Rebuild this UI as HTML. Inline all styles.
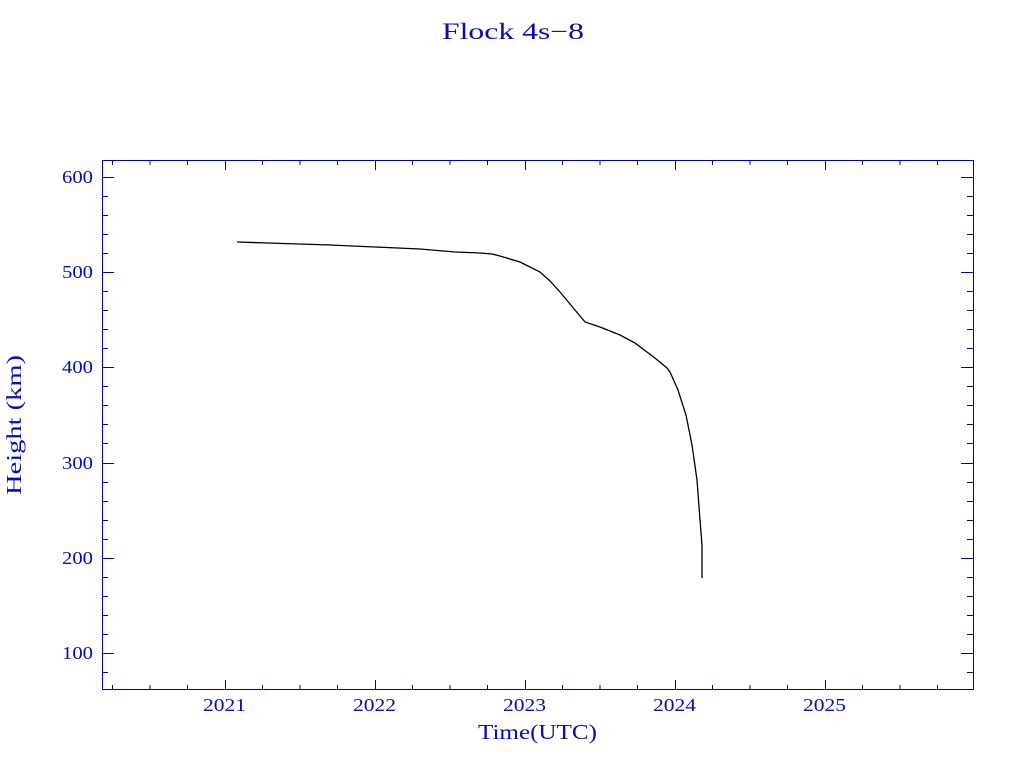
<!DOCTYPE html><html><head><style>body{margin:0;background:#fff}svg{display:block}text{font-family:"Liberation Serif",serif;fill:#0a0ab4}</style></head><body>
<svg width="1024" height="768" xmlns="http://www.w3.org/2000/svg">
<text x="442" y="39" font-size="23" textLength="142" lengthAdjust="spacingAndGlyphs">Flock 4s−8</text>
<rect x="102.5" y="160.5" width="871" height="529" fill="none" stroke="#0000a0" stroke-width="1"/>
<g stroke="#0000a0" stroke-width="1">
<path d="M112.5 690v-5M150 690v-5M187.5 690v-5M262.5 690v-5M300 690v-5M337.5 690v-5M412.5 690v-5M450 690v-5M487.5 690v-5M562.5 690v-5M600 690v-5M637.5 690v-5M712.5 690v-5M750 690v-5M787.5 690v-5M862.5 690v-5M900 690v-5M937.5 690v-5"/>
<path d="M225.5 690v-10M375.5 690v-10M525.5 690v-10M675.5 690v-10M825.5 690v-10"/>
<path d="M112.5 160v5M150 160v5M187.5 160v5M262.5 160v5M300 160v5M337.5 160v5M412.5 160v5M450 160v5M487.5 160v5M562.5 160v5M600 160v5M637.5 160v5M712.5 160v5M750 160v5M787.5 160v5M862.5 160v5M900 160v5M937.5 160v5"/>
<path d="M225.5 160v10M375.5 160v10M525.5 160v10M675.5 160v10M825.5 160v10"/>
<path d="M102 672.5h6M102 634.5h6M102 615.5h6M102 596.5h6M102 577.5h6M102 539.5h6M102 520.5h6M102 501.5h6M102 482.5h6M102 443.5h6M102 424.5h6M102 405.5h6M102 386.5h6M102 348.5h6M102 329.5h6M102 310.5h6M102 291.5h6M102 253.5h6M102 234.5h6M102 215.5h6M102 196.5h6"/>
<path d="M102 653.5h12M102 558.5h12M102 463.5h12M102 367.5h12M102 272.5h12M102 177.5h12"/>
<path d="M973 672.5h-6M973 634.5h-6M973 615.5h-6M973 596.5h-6M973 577.5h-6M973 539.5h-6M973 520.5h-6M973 501.5h-6M973 482.5h-6M973 443.5h-6M973 424.5h-6M973 405.5h-6M973 386.5h-6M973 348.5h-6M973 329.5h-6M973 310.5h-6M973 291.5h-6M973 253.5h-6M973 234.5h-6M973 215.5h-6M973 196.5h-6"/>
<path d="M973 653.5h-12M973 558.5h-12M973 463.5h-12M973 367.5h-12M973 272.5h-12M973 177.5h-12"/>
</g>
<g font-size="18">
<text x="203" y="711" textLength="43" lengthAdjust="spacingAndGlyphs">2021</text><text x="353" y="711" textLength="43" lengthAdjust="spacingAndGlyphs">2022</text><text x="503" y="711" textLength="43" lengthAdjust="spacingAndGlyphs">2023</text><text x="653" y="711" textLength="43" lengthAdjust="spacingAndGlyphs">2024</text><text x="803" y="711" textLength="43" lengthAdjust="spacingAndGlyphs">2025</text>
<text x="62" y="183" textLength="31" lengthAdjust="spacingAndGlyphs">600</text><text x="62" y="278" textLength="31" lengthAdjust="spacingAndGlyphs">500</text><text x="62" y="373" textLength="31" lengthAdjust="spacingAndGlyphs">400</text><text x="62" y="469" textLength="31" lengthAdjust="spacingAndGlyphs">300</text><text x="62" y="564" textLength="31" lengthAdjust="spacingAndGlyphs">200</text><text x="62" y="659" textLength="31" lengthAdjust="spacingAndGlyphs">100</text>
</g>
<text x="478" y="739" font-size="21" textLength="119" lengthAdjust="spacingAndGlyphs">Time(UTC)</text>
<text transform="translate(21,495) rotate(-90)" font-size="21" textLength="140" lengthAdjust="spacingAndGlyphs">Height (km)</text>
<polyline fill="none" stroke="#000" stroke-width="1.3" points="237,242 268,243 330,245 375,247 420,249 455,252 480,253 492,254 500,256 520,262 540,272 550,281 560,292 570,304 585,322 600,327 620,335 635,343 655,358 667,368 670,372 678,390 686,415 692,445 697,480 700,520 702,545 702,578"/>
</svg>
</body></html>
